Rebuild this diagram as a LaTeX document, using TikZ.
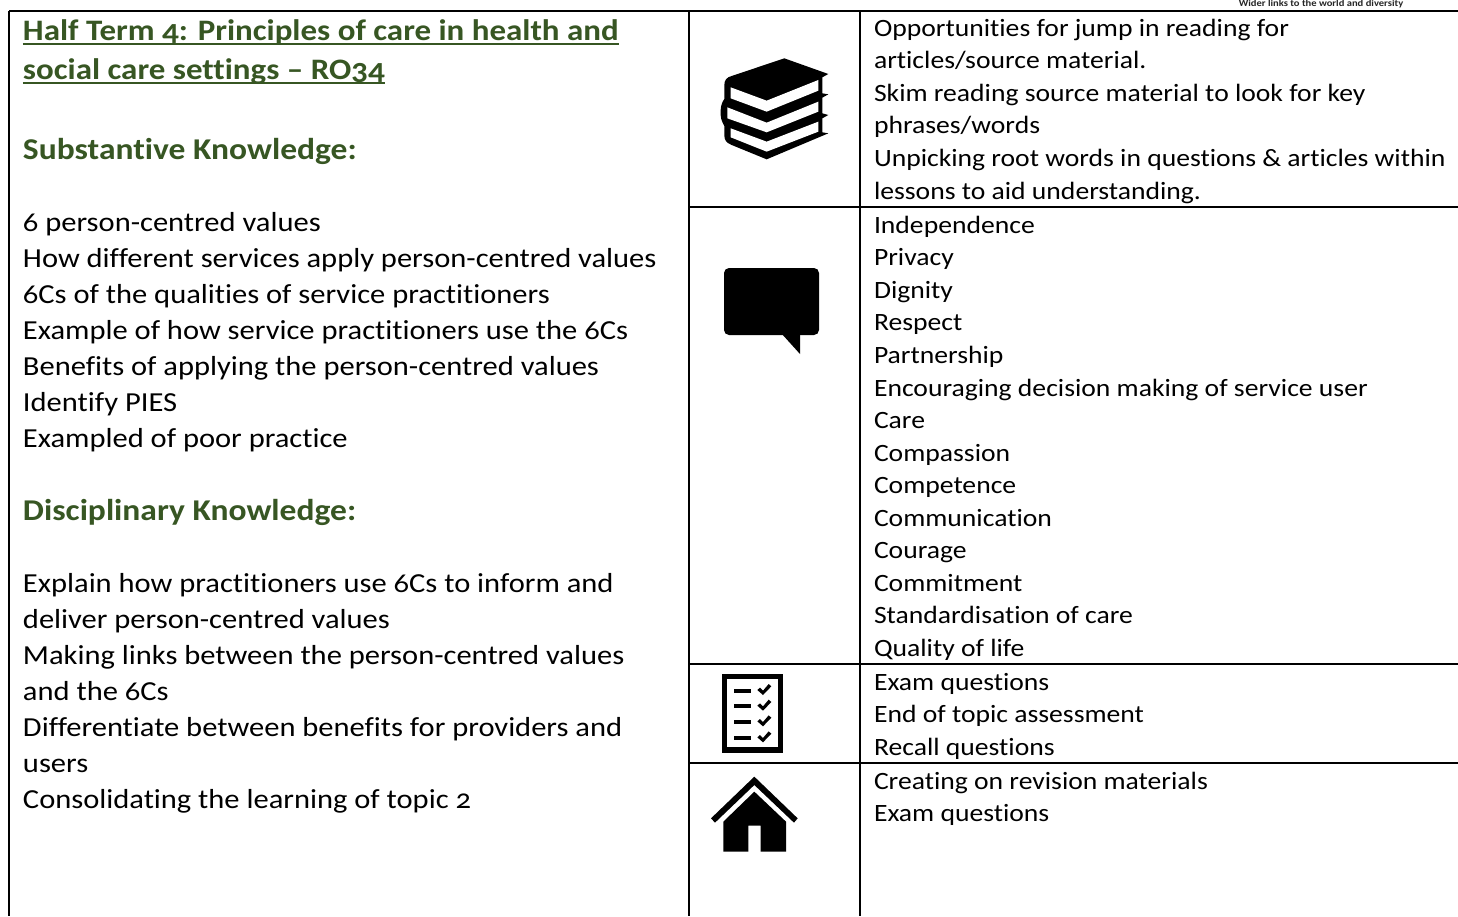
\documentclass[tikz,border=0pt]{standalone}
\usepackage{fontspec}
\setmainfont[Numbers=OldStyle,FakeStretch=1.11,Ligatures=NoCommon]{Carlito}
\definecolor{hgreen}{HTML}{375623}
\newsavebox{\ulinebox}
\newcommand{\hdline}[1]{\sbox{\ulinebox}{#1}\rlap{\rule[-4pt]{\wd\ulinebox}{1.8pt}}\usebox{\ulinebox}}
\tikzset{
 rule/.style={line width=2.7pt,black},
 txt/.style={anchor=north west,inner sep=0pt,outer sep=0pt,align=left},
 body/.style={txt,font=\fontsize{27.5}{36}\selectfont},
 small/.style={txt,font=\fontsize{24.9}{32.55}\selectfont},
 head/.style={txt,font=\fontsize{29.7}{39}\selectfont\bfseries,text=hgreen},
 subhead/.style={txt,font=\fontsize{30.2}{39}\selectfont\bfseries,text=hgreen},
 icon/.style={fill=black,draw=none},
 hole/.style={fill=white,draw=none}
}
\begin{document}
\begin{tikzpicture}[x=1pt,y=-1pt]
\useasboundingbox (0,0) rectangle (1458,916);
\fill[white] (0,0) rectangle (1458,916);
\node[anchor=base,inner sep=0pt,font=\fontsize{9.5}{9.5}\selectfont\bfseries,text=black!85] (wider) at (1321,6) {Wider links to the world and diversity};
% grid
\coordinate (tl) at (9,11); \coordinate (tr) at (1458,11); \coordinate (bl) at (9,916);
\coordinate (m1t) at (689,11); \coordinate (m1b) at (689,916);
\coordinate (m2t) at (860,11); \coordinate (m2b) at (860,916);
\coordinate (h1a) at (689,207); \coordinate (h1b) at (1458,207);
\coordinate (h2a) at (689,664); \coordinate (h2b) at (1458,664);
\coordinate (h3a) at (689,763); \coordinate (h3b) at (1458,763);
\draw[rule] (tl)--(tr); \draw[rule] (tl)--(bl); \draw[rule] (m1t)--(m1b); \draw[rule] (m2t)--(m2b);
\draw[rule] (h1a)--(h1b); \draw[rule] (h2a)--(h2b); \draw[rule] (h3a)--(h3b);
% left column
\node[head] (title) at (23,20) {\hdline{Half Term 4: Principles of care in health and}\\\hdline{social care settings – RO34}};
\node[subhead] (subst) at (23,138) {Substantive Knowledge:};
\node[body] (sublist) at (23,212) {6 person-centred values\\How different services apply person-centred values\\6Cs of the qualities of service practitioners\\Example of how service practitioners use the 6Cs\\Benefits of applying the person-centred values\\Identify PIES\\Exampled of poor practice};
\node[subhead] (disc) at (23,499) {Disciplinary Knowledge:};
\node[body] (dislist) at (23,573) {Explain how practitioners use 6Cs to inform and\\deliver person-centred values\\Making links between the person-centred values\\and the 6Cs\\Differentiate between benefits for providers and\\users\\Consolidating the learning of topic 2};
% right column
\node[small] (r1) at (874,19) {Opportunities for jump in reading for\\articles/source material.\\Skim reading source material to look for key\\phrases/words\\Unpicking root words in questions \& articles within\\lessons to aid understanding.};
\node[small] (r2) at (874,216) {Independence\\Privacy\\Dignity\\Respect\\Partnership\\Encouraging decision making of service user\\Care\\Compassion\\Competence\\Communication\\Courage\\Commitment\\Standardisation of care\\Quality of life};
\node[small] (r3) at (874,673) {Exam questions\\End of topic assessment\\Recall questions};
\node[small] (r4) at (874,772) {Creating on revision materials\\Exam questions};
% books
\begin{scope}[shift={(690,0)},x=0.3333pt,y=-0.3333pt]
\fill[icon] (283,175)--(415,222)--(397,232)--(397,280)--(415,283)--(397,293)--(397,340)--(415,345)--(397,355)--(397,397)--(415,400)--(230,478)--(125,435) .. controls (108,428) and (103,420) .. (103,405)--(103,378) .. controls (95,365) and (90,350) .. (92,330) .. controls (93,315) and (97,305) .. (103,297)--(103,255) .. controls (103,240) and (110,232) .. (125,228)--cycle;
\fill[hole] (122,262)--(230,302)--(385,240)--(385,272)--(230,335)--(122,295)--cycle;
\fill[hole] (112,322)--(230,368)--(385,305)--(385,335)--(230,397)--(112,355)--cycle;
\fill[hole] (122,385)--(230,425)--(385,365)--(385,395)--(230,455)--(122,412)--cycle;
\end{scope}
% speech bubble
\fill[icon,rounded corners=5pt] (724,268)--(819,268)--(819,335)--(800,335)--(724,335)--cycle;
\fill[icon] (781,333)--(800,333)--(800,354)--cycle;
% checklist
\begin{scope}[shift={(690,660)},x=0.3333pt,y=-0.3333pt]
\fill[icon] (95,42) rectangle (280,278);
\fill[hole] (110,58) rectangle (265,262);
\foreach \yy in {92,139,186,234}{
 \fill[icon] (132,\yy-6) rectangle (182,\yy+6);
 \fill[icon] (202,\yy-2)--(210,\yy-9)--(219,\yy)--(236,\yy-20)--(244,\yy-13)--(219,\yy+13)--cycle;
}
\end{scope}
% house
\begin{scope}[shift={(690,660)},x=0.3333pt,y=-0.3333pt]
\fill[icon] (63,475)--(193,350)--(323,475)--(312,488)--(193,375)--(75,488)--cycle;
\fill[icon] (193,395)--(288,485)--(288,575)--(212,575)--(212,497)--(175,497)--(175,575)--(100,575)--(100,485)--cycle;
\end{scope}
\end{tikzpicture}
\end{document}
